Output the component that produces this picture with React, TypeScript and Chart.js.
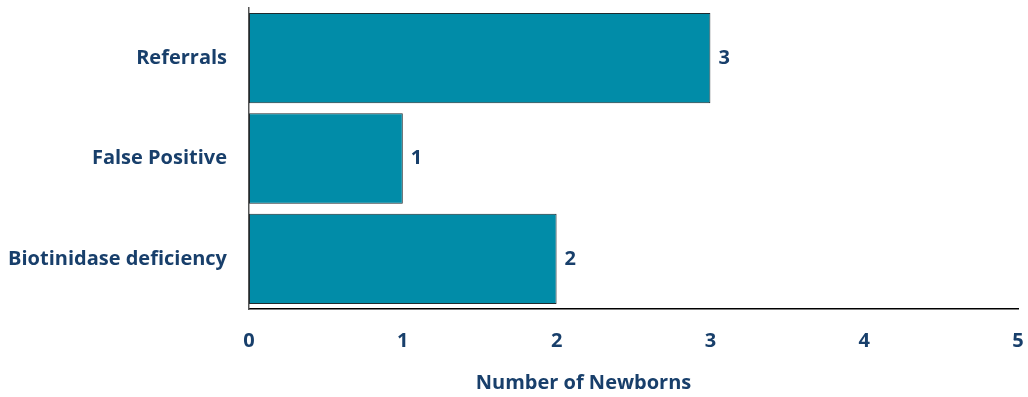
import React, { useEffect, useRef } from "react";
import { Chart, registerables } from "chart.js";

Chart.register(...registerables);

const categories = ["Referrals", "False Positive", "Biotinidase deficiency"];
const newborns = [3, 1, 2];
const xTicks = [0, 1, 2, 3, 4, 5];
const xAxisTitle = "Number of Newborns";

const NAVY = "#183f6b";
const TEAL = "#018ca8";
const FONT = "'Open Sans', Lato, sans-serif";
const FONT_SIZE = 20;

// Writes each bar's value just past its end, plus the x-axis caption
const valueLabels = {
  id: "valueLabels",
  afterDatasetsDraw(chart: any) {
    const { ctx, chartArea } = chart;
    const meta = chart.getDatasetMeta(0);
    const data = chart.data.datasets[0].data as number[];
    ctx.save();
    ctx.font = `bold ${FONT_SIZE}px ${FONT}`;
    ctx.fillStyle = NAVY;
    ctx.textAlign = "left";
    ctx.textBaseline = "middle";
    meta.data.forEach((bar: any, i: number) => {
      ctx.fillText(String(data[i]), bar.x + 8, bar.y);
    });
    // caption sits a little left of the plot centre
    ctx.textAlign = "center";
    const cx = chartArea.left + (chartArea.right - chartArea.left) * 0.435;
    ctx.fillText(xAxisTitle, cx, chartArea.bottom + 74);
    ctx.restore();
  },
};

// Keeps the axes from reserving extra room for label overhang
function noOverhang(scale: any) {
  scale.paddingTop = 0;
  scale.paddingBottom = 0;
  scale.paddingLeft = 0;
  scale.paddingRight = 0;
}

export default function App() {
  const canvasRef = useRef<HTMLCanvasElement | null>(null);

  useEffect(() => {
    if (!canvasRef.current) return;
    const chart = new Chart(canvasRef.current, {
      type: "bar",
      data: {
        labels: categories,
        datasets: [
          {
            data: newborns,
            backgroundColor: TEAL,
            borderColor: "#1e2a2e",
            borderWidth: 1,
            borderSkipped: false,
            categoryPercentage: 0.9,
            barPercentage: 1.0,
          },
        ],
      },
      options: {
        indexAxis: "y",
        responsive: true,
        maintainAspectRatio: false,
        animation: false,
        layout: { padding: { top: 8, right: 10, bottom: 0, left: 0 } },
        plugins: {
          legend: { display: false },
          tooltip: { enabled: false },
        },
        scales: {
          x: {
            min: 0,
            max: 5,
            afterBuildTicks(scale: any) {
              scale.ticks = xTicks.map((v) => ({ value: v }));
            },
            afterFit(scale: any) {
              noOverhang(scale);
              scale.height = 88;
            },
            grid: { display: false, drawTicks: true, tickLength: 20 },
            border: { display: true, color: "#000000", width: 1.5 },
            ticks: {
              padding: 0,
              color: NAVY,
              font: { family: FONT, size: FONT_SIZE, weight: "bold" },
            },
          },
          y: {
            afterFit(scale: any) {
              noOverhang(scale);
              scale.width = 249;
            },
            grid: { display: false, drawTicks: true, tickLength: 22 },
            border: { display: true, color: "#555555", width: 1.5 },
            ticks: {
              padding: 0,
              color: NAVY,
              font: { family: FONT, size: FONT_SIZE, weight: "bold" },
            },
          },
        },
      },
      plugins: [valueLabels],
    });
    return () => chart.destroy();
  }, []);

  return (
    <div style={{ position: "absolute", left: 0, top: 0, width: 1028, height: 397, background: "#ffffff" }}>
      <canvas ref={canvasRef} />
    </div>
  );
}
